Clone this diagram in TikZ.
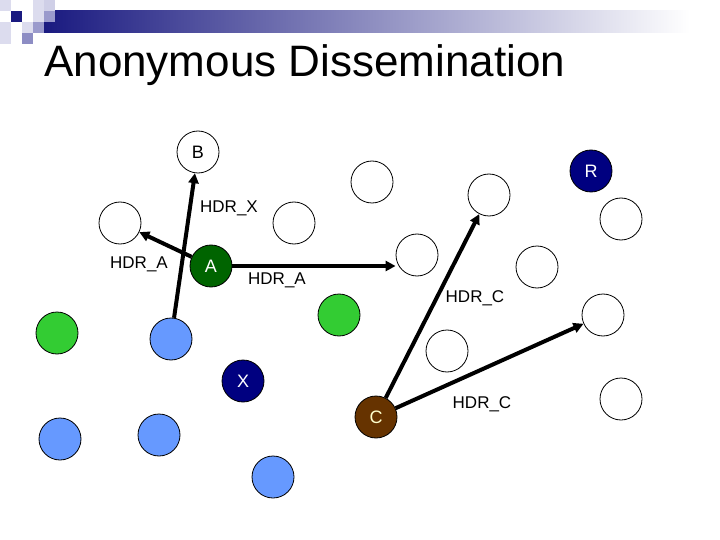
\documentclass[tikz,border=0pt]{standalone}
\usepackage{fontspec}
\setmainfont{Liberation Sans}
\usetikzlibrary{arrows.meta}
\definecolor{navy}{HTML}{000080}
\definecolor{hdrnavy}{HTML}{1A1A80}
\definecolor{dkgreen}{HTML}{006400}
\definecolor{ltgreen}{HTML}{33CC33}
\definecolor{ltblue}{HTML}{6699FF}
\definecolor{brown}{HTML}{663300}
\definecolor{cream}{HTML}{FFFFCC}
\definecolor{sqlight}{HTML}{DCDCEE}
\definecolor{sqmid}{HTML}{9A9ACC}
\begin{document}
\begin{tikzpicture}[x=1pt,y=-1pt,
  nd/.style={circle,draw=black,line width=0.8pt,minimum size=42pt,inner sep=0pt,font=\fontsize{18}{20}\selectfont},
  emptynd/.style={nd,fill=white},
  gnd/.style={nd,fill=ltgreen},
  bnd/.style={nd,fill=ltblue},
  lbl/.style={font=\fontsize{17}{19}\selectfont,inner sep=0pt},
  arr/.style={line width=4pt,-{Triangle[length=10pt,width=10pt]}}]
\useasboundingbox (0,0) rectangle (720,540);
\fill[white] (0,0) rectangle (720,540);
% header decoration
\shade[left color=hdrnavy,right color=white] (44,11) rectangle (690,33);
\fill[sqlight] (0,0) rectangle (11,11);
\fill[hdrnavy] (11,11) rectangle (22,22);
\fill[sqlight] (33,0) rectangle (44,11);
\fill[sqlight!80!sqmid] (44,0) rectangle (55,11);
\fill[sqlight] (33,11) rectangle (44,22);
\fill[sqmid] (44,11) rectangle (55,22);
\fill[sqlight] (22,22) rectangle (33,33);
\fill[sqmid] (33,22) rectangle (44,33);
\fill[sqmid!90!hdrnavy] (22,33) rectangle (33,44);
\fill[sqlight] (0,22) rectangle (11,44);
% title
\node[anchor=base west,inner sep=0pt,font=\fontsize{44}{48}\selectfont] (title) at (44,77) {Anonymous Dissemination};
% nodes
\node[emptynd] (B) at (198,152) {B};
\node[nd,fill=navy,text=white] (R) at (591,171) {R};
\node[emptynd] (e1) at (120,223) {};
\node[emptynd] (e2) at (294,223) {};
\node[emptynd] (e3) at (372,182) {};
\node[emptynd] (e4) at (489,195) {};
\node[emptynd] (e5) at (621,219) {};
\node[emptynd] (e6) at (417,255) {};
\node[emptynd] (e7) at (537,267) {};
\node[emptynd] (e8) at (603,315) {};
\node[emptynd] (e9) at (447,351) {};
\node[emptynd] (e10) at (621,399) {};
\node[nd,fill=dkgreen,text=white] (A) at (211,266) {A};
\node[gnd] (g1) at (57,333) {};
\node[gnd] (g2) at (339,315) {};
\node[bnd] (b1) at (171,339) {};
\node[bnd] (b2) at (60,439) {};
\node[bnd] (b3) at (159,435) {};
\node[bnd] (b4) at (273,477) {};
\node[nd,fill=navy,text=white] (X) at (243,381) {X};
\node[nd,fill=brown,text=cream] (C) at (376,417) {C};
% labels
\node[lbl] (lx) at (229,208) {HDR\_X};
\node[lbl] (la1) at (139,264) {HDR\_A};
\node[lbl] (la2) at (277,280) {HDR\_A};
\node[lbl] (lc1) at (475,298) {HDR\_C};
\node[lbl] (lc2) at (482,404) {HDR\_C};
% connectors
\draw[arr] (b1) -- (B);
\draw[arr] (A) -- (e1);
\draw[arr] (A.east) -- (A.east -| e6.west);
\draw[arr] (C) -- (e4);
\draw[arr] (C) -- (e8);
\end{tikzpicture}
\end{document}
